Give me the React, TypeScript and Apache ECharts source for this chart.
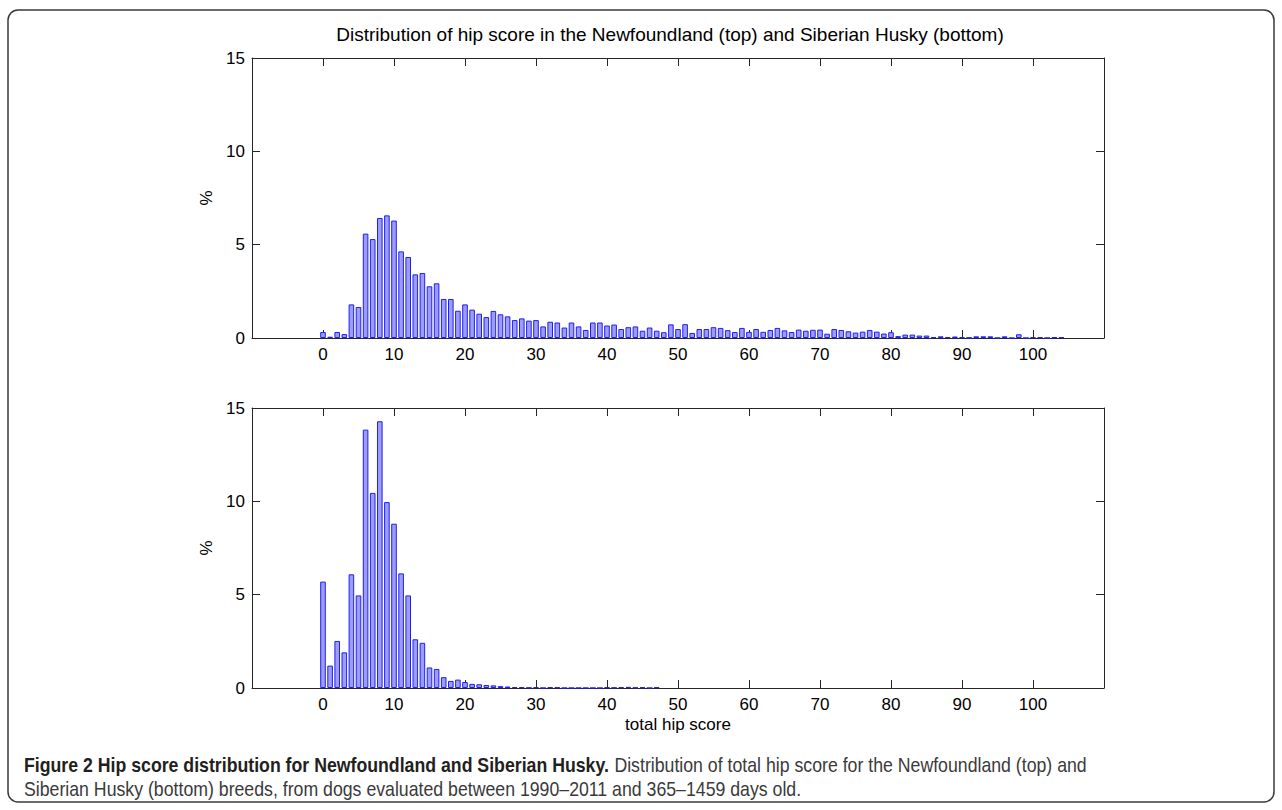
import React, { useEffect, useRef } from "react";
import * as echarts from "echarts";

const scores = [
  0, 1, 2, 3, 4, 5, 6, 7, 8, 9, 10, 11, 12, 13, 14, 15, 16, 17, 18, 19,
  20, 21, 22, 23, 24, 25, 26, 27, 28, 29, 30, 31, 32, 33, 34, 35, 36, 37, 38, 39,
  40, 41, 42, 43, 44, 45, 46, 47, 48, 49, 50, 51, 52, 53, 54, 55, 56, 57, 58, 59,
  60, 61, 62, 63, 64, 65, 66, 67, 68, 69, 70, 71, 72, 73, 74, 75, 76, 77, 78, 79,
  80, 81, 82, 83, 84, 85, 86, 87, 88, 89, 90, 91, 92, 93, 94, 95, 96, 97, 98, 99,
  100, 101, 102, 103, 104,
];

const newfoundland = [
  0.32, 0.07, 0.32, 0.21, 1.8, 1.66, 5.59, 5.3, 6.43, 6.57,
  6.29, 4.64, 4.34, 3.41, 3.48, 2.77, 2.93, 2.09, 2.09, 1.46,
  1.8, 1.52, 1.3, 1.12, 1.45, 1.27, 1.16, 0.96, 1.05, 0.93,
  0.96, 0.62, 0.87, 0.83, 0.56, 0.83, 0.62, 0.43, 0.83, 0.83,
  0.67, 0.72, 0.48, 0.58, 0.62, 0.39, 0.56, 0.39, 0.31, 0.73,
  0.48, 0.74, 0.27, 0.48, 0.48, 0.58, 0.54, 0.42, 0.32, 0.54,
  0.33, 0.48, 0.33, 0.43, 0.54, 0.41, 0.32, 0.45, 0.39, 0.44,
  0.45, 0.23, 0.48, 0.43, 0.36, 0.29, 0.34, 0.43, 0.34, 0.24,
  0.31, 0.1, 0.18, 0.18, 0.13, 0.13, 0.05, 0.09, 0.05, 0.08,
  0.05, 0.02, 0.09, 0.09, 0.09, 0, 0.09, 0, 0.2, 0,
  0.04, 0.04, 0, 0.04, 0.04,
];

const husky = [
  5.7, 1.2, 2.52, 1.91, 6.09, 4.96, 13.84, 10.45, 14.29, 9.96,
  8.8, 6.14, 4.96, 2.61, 2.42, 1.1, 1.02, 0.58, 0.38, 0.45,
  0.32, 0.22, 0.2, 0.16, 0.14, 0.1, 0.08, 0.05, 0.05, 0.02,
  0.04, 0, 0.04, 0.03, 0, 0, 0, 0, 0, 0,
  0.04, 0.02, 0.04, 0.06, 0.02, 0.04, 0, 0.04,
];

const xTicks = [0, 10, 20, 30, 40, 50, 60, 70, 80, 90, 100];
const yTicks = [0, 5, 10, 15];

const chartTitle =
  "Distribution of hip score in the Newfoundland (top) and Siberian Husky (bottom)";
const xName = "total hip score";
const yName = "%";
const captionBold = "Figure 2 Hip score distribution for Newfoundland and Siberian Husky.";
const captionLine1 = " Distribution of total hip score for the Newfoundland (top) and";
const captionLine2 =
  "Siberian Husky (bottom) breeds, from dogs evaluated between 1990\u20132011 and 365\u20131459 days old.";

const FONT = "'Liberation Sans', Arial, Helvetica, sans-serif";
const AXIS_COLOR = "#262626";
const PLOT_LEFT = 252;
const PLOT_WIDTH = 852;
const PLOT_HEIGHT = 280;
const TOPS = [58, 408];

function makeXAxes(gridIndex: number, withName: boolean) {
  const common = {
    gridIndex,
    type: "value" as const,
    min: -10,
    max: 110,
    interval: 10,
    splitLine: { show: false },
    axisLine: { show: true, onZero: false, lineStyle: { color: AXIS_COLOR, width: 1 } },
    axisTick: { show: true, inside: true, length: 8, lineStyle: { color: AXIS_COLOR } },
  };
  return [
    {
      ...common,
      position: "bottom",
      name: withName ? xName : "",
      nameLocation: "middle",
      nameGap: 28,
      nameTextStyle: { fontFamily: FONT, fontSize: 17, color: "#000" },
      axisLabel: {
        show: true,
        margin: 8,
        fontFamily: FONT,
        fontSize: 17,
        color: "#000",
        formatter: (v: number) => (xTicks.indexOf(v) >= 0 ? String(v) : ""),
      },
    },
    {
      ...common,
      position: "top",
      axisLabel: { show: false },
    },
  ];
}

function makeYAxes(gridIndex: number) {
  const common = {
    gridIndex,
    type: "value" as const,
    min: 0,
    max: 15,
    interval: 5,
    splitLine: { show: false },
    axisLine: { show: true, onZero: false, lineStyle: { color: AXIS_COLOR, width: 1 } },
    axisTick: { show: true, inside: true, length: 8, lineStyle: { color: AXIS_COLOR } },
  };
  return [
    {
      ...common,
      position: "left",
      name: yName,
      nameLocation: "middle",
      nameGap: 32,
      nameRotate: 90,
      nameTextStyle: { fontFamily: FONT, fontSize: 17, color: "#000" },
      axisLabel: {
        show: true,
        margin: 7,
        fontFamily: FONT,
        fontSize: 17,
        color: "#000",
        formatter: (v: number) => (yTicks.indexOf(v) >= 0 ? String(v) : ""),
      },
    },
    {
      ...common,
      position: "right",
      axisLabel: { show: false },
    },
  ];
}

function barSeries(values: number[], idx: number) {
  return {
    type: "bar",
    xAxisIndex: idx * 2,
    yAxisIndex: idx * 2,
    barWidth: 5.6,
    data: values.map((v, i) => [scores[i], v]),
    itemStyle: { color: "#9c9cfa", borderColor: "#1f1ff5", borderWidth: 1 },
    emphasis: { disabled: true },
  };
}

export default function App() {
  const ref = useRef<HTMLDivElement>(null);
  useEffect(() => {
    if (!ref.current) return;
    const chart = echarts.init(ref.current, undefined, { renderer: "svg" });
    chart.setOption({
      animation: false,
      backgroundColor: "#fff",
      grid: TOPS.map((top) => ({
        left: PLOT_LEFT,
        top,
        width: PLOT_WIDTH,
        height: PLOT_HEIGHT,
        containLabel: false,
      })),
      xAxis: [...makeXAxes(0, false), ...makeXAxes(1, true)],
      yAxis: [...makeYAxes(0), ...makeYAxes(1)],
      series: [barSeries(newfoundland, 0), barSeries(husky, 1)],
      graphic: [
        {
          type: "rect",
          shape: { x: 8, y: 10, width: 1266, height: 792, r: 10 },
          style: { fill: "none", stroke: "#3a3a3a", lineWidth: 1.5 },
          silent: true,
        },
        {
          type: "text",
          x: 670,
          y: 34,
          style: {
            text: chartTitle,
            fontFamily: FONT,
            fontSize: 19,
            fill: "#000",
            textAlign: "center",
            textVerticalAlign: "middle",
          },
          silent: true,
        },
        {
          type: "text",
          x: 24,
          y: 753,
          scaleX: 0.886,
          style: {
            text:
              "{b|" + captionBold + "}{n|" + captionLine1 + "}\n{n|" + captionLine2 + "}",
            fontFamily: FONT,
            fontSize: 20,
            lineHeight: 24,
            fill: "#333",
            rich: {
              b: { fontFamily: FONT, fontSize: 20, fontWeight: "bold", fill: "#231f20", lineHeight: 24 },
              n: { fontFamily: FONT, fontSize: 20, fill: "#3a3a3a", lineHeight: 24 },
            },
          },
          silent: true,
        },
      ],
    });
    return () => chart.dispose();
  }, []);
  return (
    <div
      ref={ref}
      style={{ position: "absolute", left: 0, top: 0, width: 1282, height: 810 }}
    />
  );
}
